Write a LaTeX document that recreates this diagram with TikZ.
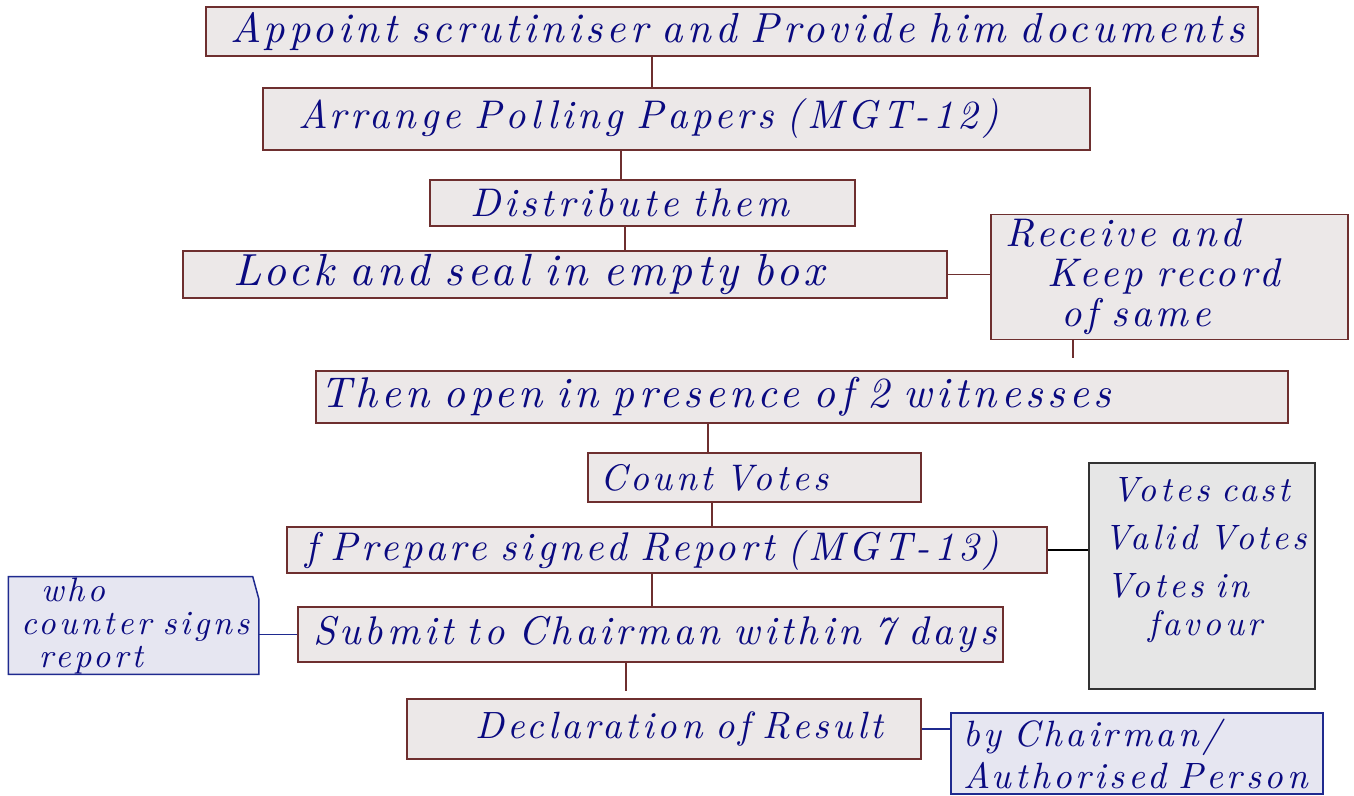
\documentclass[tikz,border=0pt]{standalone}
\usepackage{fontspec}
\newfontfamily\hand{lmroman10-italic}[Extension=.otf, LetterSpace=10, WordSpace=3]
\usetikzlibrary{calc}
\pgfdeclarelayer{background}
\pgfsetlayers{background,main}
\definecolor{boxfill}{HTML}{ECE8E8}
\definecolor{boxline}{HTML}{6E2F2F}
\definecolor{greyfill}{HTML}{E6E6E6}
\definecolor{greyline}{HTML}{333333}
\definecolor{lavfill}{HTML}{E6E6F1}
\definecolor{navyline}{HTML}{1F2A8F}
\definecolor{ink}{HTML}{0A0A80}
\tikzset{
  box/.style={draw=boxline, fill=boxfill, line width=0.75pt, inner ysep=0pt,
    align=left, font=\hand\fontsize{20}{22}\selectfont, text=ink},
  greybox/.style={box, draw=greyline, fill=greyfill},
  lavbox/.style={box, draw=navyline, fill=lavfill},
  conn/.style={draw=boxline, line width=0.75pt},
  blackconn/.style={draw=black, line width=0.75pt},
  navyconn/.style={draw=navyline, line width=0.75pt},
}
\begin{document}
\begin{tikzpicture}[x=0.5pt, y=-0.5pt]
\useasboundingbox (0,0) rectangle (1354,796);

\node[box, minimum height=24.5pt, text width=502pt, inner xsep=12pt,
  font=\hand\fontsize{21}{23}\selectfont] (appoint) at (732,31.5)
  {\mbox{Appoint scrutiniser and Provide him documents}};
\node[box, minimum height=31pt, text width=378.5pt, inner xsep=17.5pt] (arrange) at (676.5,119)
  {\mbox{Arrange Polling Papers (MGT-12)}};
\node[box, minimum height=23pt, text width=172.5pt, inner xsep=20pt] (distribute) at (642.5,203)
  {\mbox{Distribute them}};
\node[box, minimum height=23.5pt, text width=332pt, inner xsep=25pt,
  font=\hand\fontsize{22.5}{24}\selectfont] (lock) at (565,274.5)
  {\mbox{Lock and seal in empty box}};
\node[box, minimum height=62.5pt, text width=164.5pt, inner xsep=7pt,
  font=\hand\fontsize{20}{20}\selectfont] (receive) at (1169.5,277)
  {\mbox{Receive and}\\\hspace*{21pt}\mbox{Keep record}\\\hspace*{28pt}\mbox{of same}};
\node[box, minimum height=26pt, text width=482pt, inner xsep=2pt,
  font=\hand\fontsize{21.5}{24}\selectfont] (thenopen) at (802,397)
  {\mbox{Then open in presence of 2 witnesses}};
\node[box, minimum height=24.5pt, text width=154.5pt, inner xsep=6pt,
  font=\hand\fontsize{18.5}{20}\selectfont] (count) at (754.5,477.5)
  {\mbox{Count Votes}};
\node[box, minimum height=23pt, text width=362pt, inner xsep=9pt] (prepare) at (667,550)
  {\mbox{f Prepare signed Report (MGT-13)}};
\node[greybox, minimum height=113pt, text width=102pt, inner xsep=5.5pt,
  font=\hand\fontsize{17.6}{24}\selectfont] (votes) at (1202,576)
  {\hspace*{6pt}\mbox{Votes cast}\\\hspace*{2pt}\mbox{Valid Votes}\\\hspace*{3pt}\mbox{Votes in}\\[-5pt]\hspace*{24pt}\mbox{favour}\\[-4pt]\mbox{}};
\node[box, draw=none, fill=none, minimum height=47.5pt, text width=112.5pt, inner xsep=6pt,
  font=\hand\fontsize{17}{16.5}\selectfont] (who) at (133.5,625.5)
  {\hspace*{10pt}\mbox{who}\\\mbox{counter signs}\\\hspace*{9pt}\mbox{report}};
\node[box, minimum height=27.5pt, text width=337.5pt, inner xsep=7.5pt] (submit) at (650.5,634.5)
  {\mbox{Submit to Chairman within 7 days}};
\node[box, minimum height=30pt, text width=189pt, inner xsep=34pt,
  font=\hand\fontsize{19}{21}\selectfont] (declaration) at (664,729)
  {\mbox{Declaration of Result}};
\node[lavbox, minimum height=40.5pt, text width=174pt, inner xsep=6pt,
  font=\hand\fontsize{18.3}{21}\selectfont] (bychair) at (1137,753.5)
  {\mbox{by Chairman/}\\\mbox{Authorised Person}};

\begin{pgfonlayer}{background}
\filldraw[draw=navyline, fill=lavfill, line width=0.75pt]
  (who.south west) -- (who.north west) -- ([xshift=-3pt]who.north east)
  -- ([yshift=-11pt]who.north east) -- (who.south east) -- cycle;
\end{pgfonlayer}

\draw[conn] (appoint.south -| 652,0) -- (arrange.north -| 652,0);
\draw[conn] (arrange.south -| 621,0) -- (distribute.north -| 621,0);
\draw[conn] (distribute.south -| 625,0) -- (lock.north -| 625,0);
\draw[conn] (lock.east) -- (lock.east -| receive.west);
\draw[conn, shorten >=6pt] (receive.south -| 1073,0) -- (thenopen.north -| 1073,0);
\draw[conn] (thenopen.south -| 708,0) -- (count.north -| 708,0);
\draw[conn] (count.south -| 712,0) -- (prepare.north -| 712,0);
\draw[blackconn] (prepare.east) -- (prepare.east -| votes.west);
\draw[conn] (prepare.south -| 652,0) -- (submit.north -| 652,0);
\draw[navyconn] (submit.west) -- (submit.west -| who.east);
\draw[conn, shorten >=3.5pt] (submit.south -| 626,0) -- (declaration.north -| 626,0);
\draw[navyconn] (declaration.east) -- (declaration.east -| bychair.west);
\end{tikzpicture}
\end{document}
